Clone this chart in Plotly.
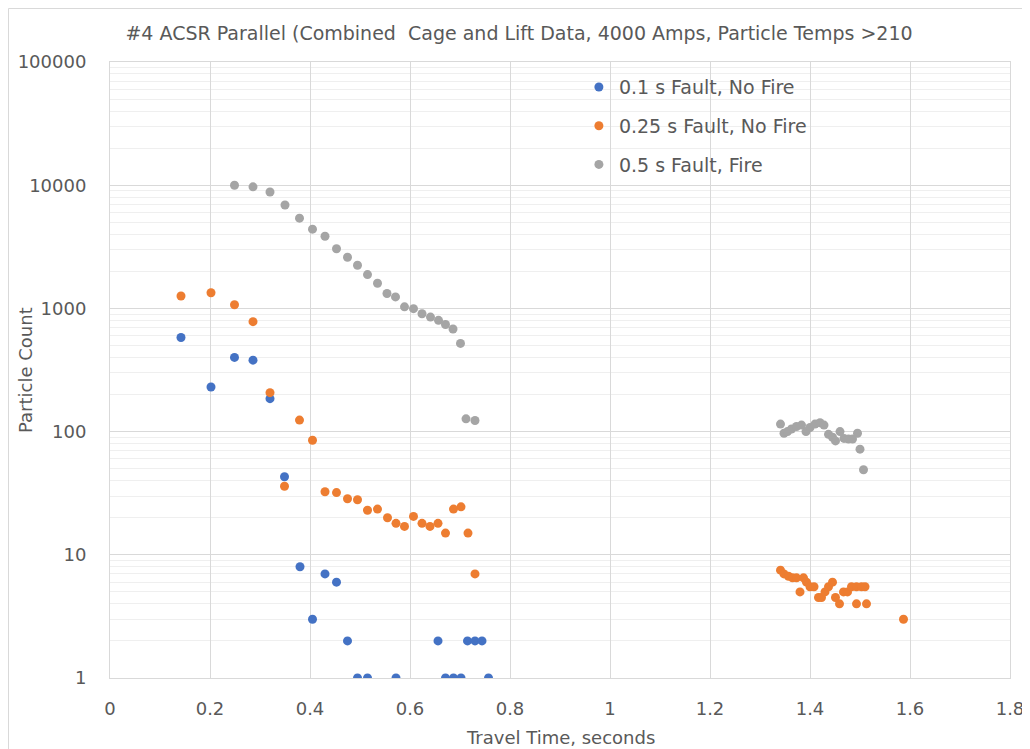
import plotly.graph_objects as go

# ---- Data ----
fault01_x = [0.142, 0.202, 0.249, 0.286, 0.320, 0.349, 0.380, 0.405, 0.430, 0.453,
             0.475, 0.495, 0.515, 0.572, 0.656, 0.671, 0.687, 0.702, 0.715, 0.730,
             0.744, 0.757]
fault01_y = [580, 230, 400, 380, 185, 43, 8, 3, 7, 6,
             2, 1, 1, 1, 2, 1, 1, 1, 2, 2,
             2, 1]

fault025_x = [0.142, 0.202, 0.249, 0.286, 0.320, 0.349, 0.379, 0.405, 0.430, 0.453,
              0.475, 0.495, 0.515, 0.535, 0.555, 0.572, 0.589, 0.607, 0.624, 0.640,
              0.656, 0.671, 0.687, 0.702, 0.716, 0.730,
              1.341, 1.348, 1.357, 1.365, 1.373, 1.380, 1.387, 1.393, 1.400, 1.408,
              1.417, 1.423, 1.430, 1.437, 1.445, 1.451, 1.459, 1.467, 1.475, 1.483,
              1.493, 1.493, 1.503, 1.510, 1.513, 1.587]
fault025_y = [1260, 1340, 1070, 780, 207, 36, 124, 85, 32.5, 32,
              28.5, 28, 23, 23.5, 20, 18, 17, 20.5, 18, 17,
              18, 15, 23.5, 24.5, 15, 7,
              7.5, 7, 6.7, 6.5, 6.5, 5, 6.5, 6, 5.5, 5.5,
              4.5, 4.5, 5, 5.5, 6, 4.5, 4, 5, 5, 5.5,
              4, 5.5, 5.5, 5.5, 4, 3]

fault05_x = [0.249, 0.286, 0.320, 0.350, 0.379, 0.405, 0.430, 0.453, 0.475, 0.495,
             0.515, 0.535, 0.554, 0.571, 0.589, 0.607, 0.624, 0.641, 0.657, 0.671,
             0.686, 0.701, 0.712, 0.730,
             1.341, 1.348, 1.355, 1.363, 1.373, 1.383, 1.392, 1.400, 1.410, 1.420,
             1.428, 1.437, 1.445, 1.451, 1.460, 1.468, 1.477, 1.485, 1.495, 1.500,
             1.507]
fault05_y = [10000, 9700, 8800, 6900, 5400, 4400, 3850, 3050, 2600, 2240,
             1880, 1600, 1320, 1240, 1030, 995, 905, 850, 800, 740,
             680, 520, 127, 123,
             115, 97, 100, 105, 110, 113, 100, 108, 115, 118,
             113, 95, 90, 84, 100, 88, 87, 87, 97, 72,
             49]

series_names = ["0.1 s Fault, No Fire", "0.25 s Fault, No Fire", "0.5 s Fault, Fire"]
series_colors = ["#4472C4", "#ED7D31", "#A5A5A5"]

y_tick_vals = [1, 10, 100, 1000, 10000, 100000]
y_tick_text = ["1", "10", "100", "1000", "10000", "100000"]
x_tick_vals = [0, 0.2, 0.4, 0.6, 0.8, 1.0, 1.2, 1.4, 1.6, 1.8]
x_tick_text = ["0", "0.2", "0.4", "0.6", "0.8", "1", "1.2", "1.4", "1.6", "1.8"]

TXT = "#595959"
FONT = "DejaVu Sans"

# The page body has an 8px margin, so the figure is 8px smaller and margins compensate
W, H = 1022, 741
ML, MR, MT, MB = 102, 20, 54, 71
PW, PH = W - ML - MR, H - MT - MB

fig = go.Figure()
for name, xs, ys, col in zip(series_names,
                             [fault01_x, fault025_x, fault05_x],
                             [fault01_y, fault025_y, fault05_y],
                             series_colors):
    fig.add_trace(go.Scatter(
        x=xs, y=ys, mode="markers", name=name, legendgroup=name,
        marker=dict(color=col, size=9, line=dict(width=0)),
    ))

fig.update_layout(
    width=W, height=H,
    margin=dict(l=ML, r=MR, t=MT, b=MB),
    paper_bgcolor="white", plot_bgcolor="white",
    font=dict(family=FONT, color=TXT, size=15),
    title=dict(text="#4 ACSR Parallel (Combined  Cage and Lift Data, 4000 Amps, Particle Temps >210",
               xref="container", x=0.5, xanchor="center",
               yref="container", y=1 - 25 / H, yanchor="middle",
               font=dict(family=FONT, size=19, color=TXT)),
    showlegend=True,
    legend=dict(x=0.521, y=0.99, xanchor="left", yanchor="top",
                bgcolor="rgba(0,0,0,0)", font=dict(size=19, color=TXT),
                tracegroupgap=11),
    shapes=[
        dict(type="line", xref="paper", yref="paper",
             x0=-(ML - 0.5) / PW, x1=-(ML - 0.5) / PW, y0=-(MB + 5) / PH, y1=1 + (MT - 0.5) / PH,
             line=dict(color="#d9d9d9", width=1)),
        dict(type="line", xref="paper", yref="paper",
             x0=-(ML - 0.5) / PW, x1=1 + (MR + 5) / PW, y0=1 + (MT - 0.5) / PH, y1=1 + (MT - 0.5) / PH,
             line=dict(color="#d9d9d9", width=1)),
    ],
    annotations=[
        dict(text="Travel Time, seconds", xref="paper", yref="paper",
             x=0.5, y=-(737 - 8 - (MT + PH)) / PH, xanchor="center", yanchor="middle",
             showarrow=False, font=dict(size=18, color=TXT)),
        dict(text="Particle Count", xref="paper", yref="paper",
             x=-(ML - (25 - 8)) / PW, y=1 - (370 - 8 - MT) / PH, xanchor="center", yanchor="middle",
             textangle=-90, showarrow=False, font=dict(size=18, color=TXT)),
    ],
)

fig.update_xaxes(
    range=[0, 1.8], tickvals=x_tick_vals, ticktext=x_tick_text,
    showgrid=True, gridcolor="#d9d9d9", gridwidth=1,
    showline=True, linecolor="#d9d9d9", mirror=True, zeroline=False,
    ticks="", ticklabelstandoff=14, automargin=False,
    tickfont=dict(size=18, color=TXT),
)
fig.update_yaxes(
    type="log", range=[0, 5], tickvals=y_tick_vals, ticktext=y_tick_text,
    showgrid=True, gridcolor="#d9d9d9", gridwidth=1,
    showline=True, linecolor="#d9d9d9", mirror=True, zeroline=False,
    ticks="", ticklabelstandoff=19, automargin=False,
    tickfont=dict(size=18, color=TXT),
    minor=dict(showgrid=True, gridcolor="#efefef", gridwidth=1, dtick="D1"),
)

fig.write_html("out.html")
